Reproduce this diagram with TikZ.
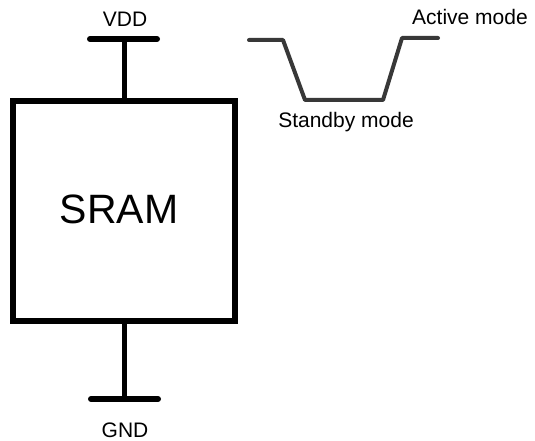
\documentclass[tikz,border=0pt]{standalone}
\usepackage{fontspec}
\setmainfont{Liberation Sans}
\usetikzlibrary{positioning}

\begin{document}
\begin{tikzpicture}[x=1pt, y=-1pt,
  every node/.style={font=\fontsize{21}{25}\selectfont, inner sep=0pt},
  chipbox/.style={draw, line width=6pt, minimum width=222pt, minimum height=220pt},
  rail/.style={line width=5pt},
  railbar/.style={line width=6pt, line cap=round},
  wave/.style={line width=4pt, black!78, line join=round, line cap=round},
]
  \useasboundingbox (0,0) rectangle (535,441);

  % SRAM block
  \node[chipbox] (sram) at (124,211) {};
  \node[anchor=base, font=\fontsize{41}{48}\selectfont] (sramtext) at (119,223) {SRAM};

  % supply rail
  \coordinate (vddtap) at (124,39);
  \draw[rail] (sram.north) -- (vddtap);
  \draw[railbar] ([xshift=-34pt]vddtap) -- ([xshift=33pt]vddtap);
  \node[anchor=base] (vdd) at (125,27) {VDD};

  % ground rail
  \coordinate (gndtap) at (124,399);
  \draw[rail] (sram.south) -- (gndtap);
  \draw[railbar] ([xshift=-33pt]gndtap) -- ([xshift=34pt]gndtap);
  \node[anchor=base] (gnd) at (125,437) {GND};

  % supply waveform
  \draw[wave] (249,40) -- (283,40) -- (305,100) -- (383,100) -- (402,38) -- (438,38);
  \node[anchor=base] (active) at (470,25) {Active mode};
  \node[anchor=base] (standby) at (346,128) {Standby mode};
\end{tikzpicture}
\end{document}
